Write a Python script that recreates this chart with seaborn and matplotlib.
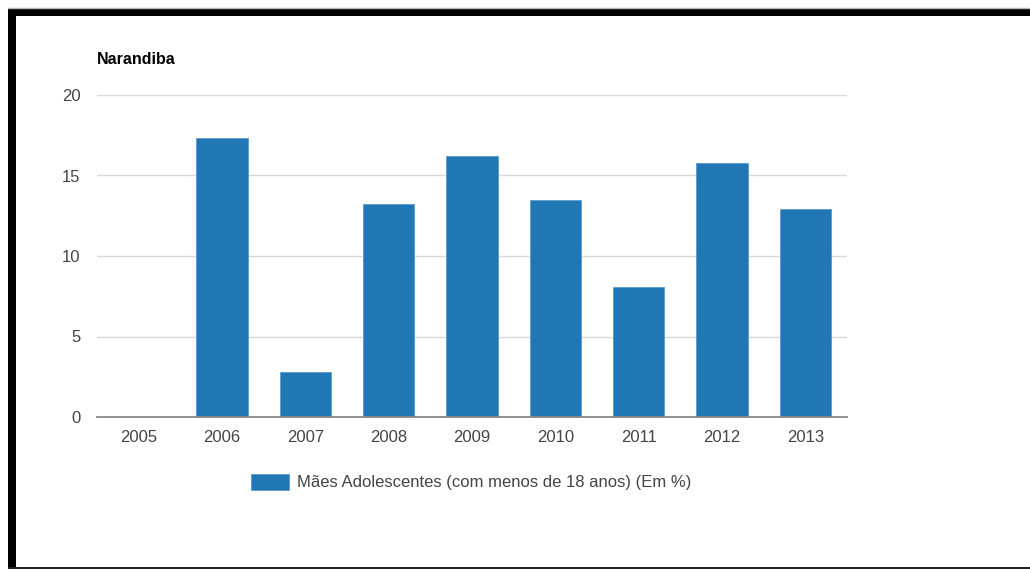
import matplotlib
matplotlib.use("Agg")
import matplotlib.pyplot as plt
import seaborn as sns
import pandas as pd
from matplotlib.patches import Rectangle
from matplotlib.lines import Line2D

years = ["2005", "2006", "2007", "2008", "2009", "2010", "2011", "2012", "2013"]
values = [0.0, 17.3, 2.8, 13.2, 16.2, 13.5, 8.1, 15.8, 12.9]
series_name = "Mães Adolescentes (com menos de 18 anos) (Em %)"
title = "Narandiba"
yticks = [0, 5, 10, 15, 20]

sns.set_theme(style="white")
plt.rcParams['font.family'] = ['Liberation Sans', 'DejaVu Sans']

W, H = 1030, 569
fig = plt.figure(figsize=(W / 100, H / 100), dpi=100)
ax = fig.add_axes([97 / W, (H - 417) / H, 750 / W, (417 - 95) / H])

df = pd.DataFrame({"year": years, "value": values})
color = "#2077b4"
sns.barplot(data=df, x="year", y="value", order=years, color=color, width=0.615,
            saturation=1, ax=ax, edgecolor="#5b9bd0", linewidth=0.6)

ax.set_ylim(0, 20)
ax.set_yticks(yticks)
ax.set_yticklabels([str(t) for t in yticks])
ax.set_xlabel("")
ax.set_ylabel("")
for s in ["top", "right", "left"]:
    ax.spines[s].set_visible(False)
ax.spines["bottom"].set_color("#888888")
ax.spines["bottom"].set_linewidth(1.3)
ax.yaxis.grid(True, color="#d9d9d9", linewidth=1)
ax.set_axisbelow(True)
ax.tick_params(axis="both", length=0, labelsize=12, labelcolor="#444444")
ax.tick_params(axis="y", pad=12)
ax.tick_params(axis="x", pad=9)

fig.text(97 / W, 1 - 60 / H, title, fontsize=11.5, fontweight="bold", color="#000000",
         va="center", ha="left")

# legend
handle = Rectangle((0, 0), 1, 1, facecolor=color, edgecolor="#5b9bd0", linewidth=0.6)
fig.legend([handle], [series_name], loc="center", bbox_to_anchor=(471 / W, 1 - 482 / H),
           frameon=False, fontsize=12, labelcolor="#444444", handlelength=2.3,
           handleheight=1.1, handletextpad=0.45)

# window frame decorations
fig.add_artist(Line2D([8 / W, 1], [1 - 8 / H, 1 - 8 / H], transform=fig.transFigure,
                      color="#bbbbbb", linewidth=1))
fig.add_artist(Rectangle((8 / W, 1 - 16 / H), 1 - 8 / W, 7.5 / H, transform=fig.transFigure,
                         facecolor="black", edgecolor="none"))
fig.add_artist(Rectangle((8 / W, 0), 8 / W, 1 - 9 / H, transform=fig.transFigure,
                         facecolor="black", edgecolor="none"))
fig.add_artist(Rectangle((8 / W, 0), 1 - 8 / W, 2 / H, transform=fig.transFigure,
                         facecolor="#222222", edgecolor="none"))

fig.savefig("out.png", dpi=100)
